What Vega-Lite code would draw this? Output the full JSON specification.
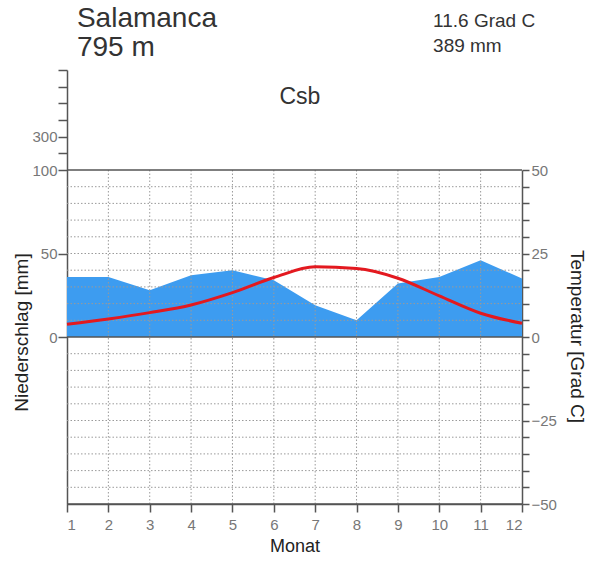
{
  "$schema": "https://vega.github.io/schema/vega-lite/v6.json",
  "width": 455,
  "height": 434,
  "autosize": "none",
  "padding": {"left": 67, "top": 70, "right": 67, "bottom": 59},
  "background": "white",
  "config": {"view": {"stroke": null}, "font": "Liberation Sans"},
  "datasets": {
    "climate": [
      {"month": 1, "temp": 3.8, "precip": 36},
      {"month": 2, "temp": 5.4, "precip": 36},
      {"month": 3, "temp": 7.3, "precip": 28},
      {"month": 4, "temp": 9.6, "precip": 37},
      {"month": 5, "temp": 13.3, "precip": 40},
      {"month": 6, "temp": 17.8, "precip": 34},
      {"month": 7, "temp": 21.0, "precip": 19},
      {"month": 8, "temp": 20.5, "precip": 10},
      {"month": 9, "temp": 17.6, "precip": 32},
      {"month": 10, "temp": 12.3, "precip": 36},
      {"month": 11, "temp": 7.1, "precip": 46},
      {"month": 12, "temp": 4.1, "precip": 35}
    ],
    "hgrid": [
      {"t": -45}, {"t": -40}, {"t": -35}, {"t": -30}, {"t": -25}, {"t": -20}, {"t": -15}, {"t": -10}, {"t": -5},
      {"t": 5}, {"t": 10}, {"t": 15}, {"t": 20}, {"t": 25}, {"t": 30}, {"t": 35}, {"t": 40}, {"t": 45}
    ],
    "vgrid": [
      {"month": 2}, {"month": 3}, {"month": 4}, {"month": 5}, {"month": 6},
      {"month": 7}, {"month": 8}, {"month": 9}, {"month": 10}, {"month": 11}
    ],
    "frame": [{"t": -50}, {"t": 0}, {"t": 50}]
  },
  "layer": [
    {
      "data": {"name": "climate"},
      "mark": {"type": "area", "color": "#3d9cf0", "opacity": 1},
      "encoding": {
        "x": {
          "field": "month", "type": "quantitative",
          "scale": {"domain": [1, 12], "nice": false, "zero": false},
          "axis": {
            "title": "Monat", "values": [1,2,3,4,5,6,7,8,9,10,11,12],
            "grid": false, "tickSize": 8, "tickColor": "#555", "tickWidth": 1.5,
            "domainColor": "#555", "domainWidth": 1.5,
            "labelFontSize": 15, "labelColor": "#777", "labelPadding": 5,
            "titleFontSize": 18, "titleFontWeight": "normal", "titleColor": "#222", "titlePadding": 5
          }
        },
        "y": {
          "field": "precip", "type": "quantitative",
          "scale": {"type": "linear", "domain": [-100, 100, 700], "range": [434, 100, 0], "nice": false, "zero": false},
          "axis": {
            "orient": "left", "title": "Niederschlag [mm]",
            "values": [0, 50, 100, 200, 300, 400, 500, 600, 700],
            "labelExpr": "indexof([0, 50, 100, 300], datum.value) >= 0 ? datum.label : ''",
            "grid": false, "tickSize": 9, "tickColor": "#555", "tickWidth": 1.5,
            "domainColor": "#555", "domainWidth": 1.5,
            "labelFontSize": 15, "labelColor": "#777", "labelPadding": 1,
            "titleFontSize": 19, "titleFontWeight": "normal", "titleColor": "#222",
            "titleX": -36, "titleY": 262, "titleAlign": "center", "titleBaseline": "bottom", "titleAngle": -90
          }
        },
        "y2": {"datum": 0}
      }
    },
    {
      "data": {"name": "hgrid"},
      "mark": {"type": "rule", "color": "#9a9a9a", "strokeWidth": 1, "strokeDash": [1.5, 2]},
      "encoding": {
        "x": {"datum": 1, "type": "quantitative"},
        "x2": {"datum": 12},
        "y": {"field": "t", "type": "quantitative",
          "scale": {"type": "linear", "domain": [-50, 50], "range": [434, 100], "nice": false, "zero": false},
          "axis": null}
      }
    },
    {
      "data": {"name": "vgrid"},
      "mark": {"type": "rule", "color": "#9a9a9a", "strokeWidth": 1, "strokeDash": [1.5, 2]},
      "encoding": {
        "x": {"field": "month", "type": "quantitative"},
        "y": {"datum": -50, "type": "quantitative",
          "scale": {"type": "linear", "domain": [-50, 50], "range": [434, 100], "nice": false, "zero": false},
          "axis": null},
        "y2": {"datum": 50}
      }
    },
    {
      "data": {"name": "frame"},
      "mark": {"type": "rule", "color": "#555", "strokeWidth": 1.5},
      "encoding": {
        "x": {"datum": 1, "type": "quantitative"},
        "x2": {"datum": 12},
        "y": {"field": "t", "type": "quantitative",
          "scale": {"type": "linear", "domain": [-50, 50], "range": [434, 100], "nice": false, "zero": false},
          "axis": null}
      }
    },
    {
      "data": {"name": "climate"},
      "mark": {"type": "line", "color": "#e3191f", "strokeWidth": 3, "interpolate": "monotone"},
      "encoding": {
        "x": {"field": "month", "type": "quantitative"},
        "y": {
          "field": "temp", "type": "quantitative",
          "scale": {"type": "linear", "domain": [-50, 50], "range": [434, 100], "nice": false, "zero": false},
          "axis": {
            "orient": "right", "title": "Temperatur [Grad C]",
            "values": [-50,-45,-40,-35,-30,-25,-20,-15,-10,-5,0,5,10,15,20,25,30,35,40,45,50],
            "labelExpr": "datum.value % 25 == 0 ? datum.label : ''",
            "grid": false, "tickSize": 7, "tickColor": "#555", "tickWidth": 1.5,
            "domainColor": "#555", "domainWidth": 1.5,
            "labelFontSize": 15, "labelColor": "#777", "labelPadding": 2,
            "titleFontSize": 19, "titleFontWeight": "normal", "titleColor": "#222",
            "titleX": 44, "titleY": 266, "titleAlign": "center", "titleBaseline": "bottom", "titleAngle": 90
          }
        }
      }
    },
    {
      "data": {"values": [{}]},
      "mark": {"type": "text", "text": ["Salamanca", "795 m"], "align": "left", "baseline": "alphabetic", "fontSize": 28, "lineHeight": 29, "color": "#333"},
      "encoding": {
        "x": {"datum": 1.24, "type": "quantitative"},
        "y": {"datum": 92.8, "type": "quantitative",
          "scale": {"type": "linear", "domain": [-50, 50], "range": [434, 100], "nice": false, "zero": false},
          "axis": null}
      }
    },
    {
      "data": {"values": [{}]},
      "mark": {"type": "text", "text": ["11.6 Grad C", "389 mm"], "align": "left", "baseline": "alphabetic", "fontSize": 19, "lineHeight": 25, "color": "#333"},
      "encoding": {
        "x": {"datum": 9.85, "type": "quantitative"},
        "y": {"datum": 92.8, "type": "quantitative",
          "scale": {"type": "linear", "domain": [-50, 50], "range": [434, 100], "nice": false, "zero": false},
          "axis": null}
      }
    },
    {
      "data": {"values": [{}]},
      "mark": {"type": "text", "text": "Csb", "align": "center", "baseline": "middle", "fontSize": 23, "color": "#333"},
      "encoding": {
        "x": {"datum": 6.63, "type": "quantitative"},
        "y": {"datum": 72, "type": "quantitative",
          "scale": {"type": "linear", "domain": [-50, 50], "range": [434, 100], "nice": false, "zero": false},
          "axis": null}
      }
    }
  ],
  "resolve": {"scale": {"y": "independent"}}
}
